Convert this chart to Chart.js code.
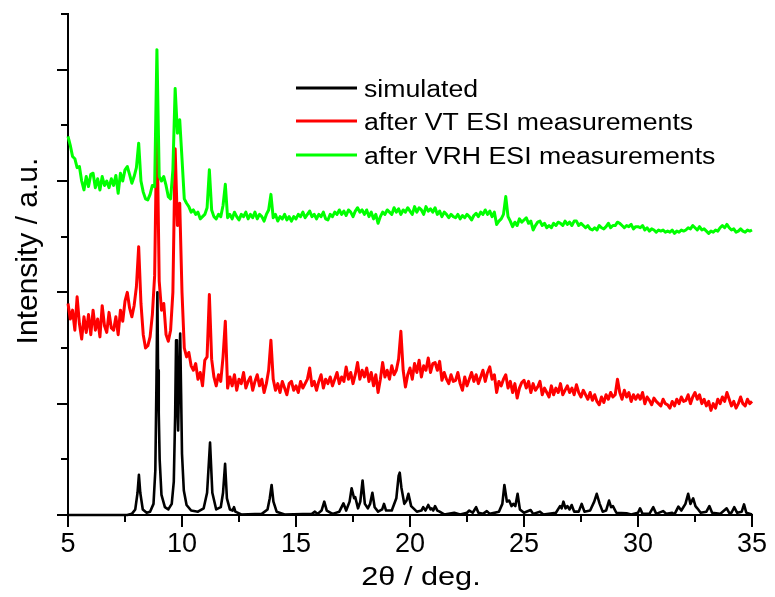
<!DOCTYPE html>
<html>
<head>
<meta charset="utf-8">
<script src="https://cdn.jsdelivr.net/npm/chart.js@4.4.1/dist/chart.umd.min.js"></script>
<style>
html, body { margin: 0; padding: 0; background: #fff; }
</style>
</head>
<body>
<canvas id="chartXrd" width="775" height="597"></canvas>
<script>
// measured patterns sampled every 0.1 deg from 5 to 35
var gridStart = 5, gridStep = 0.1;

var seriesNames = ['simulated', 'after VT ESI measurements', 'after VRH ESI measurements'];
var seriesColors = ['#000000', '#ff0000', '#00ff00'];

var xMajorTicks = [5, 10, 15, 20, 25, 30, 35];
var xMinorTicks = [7.5, 12.5, 17.5, 22.5, 27.5, 32.5];
var yMajorTicks = [0, 1, 2, 3, 4];
var yMinorTicks = [0.5, 1.5, 2.5, 3.5, 4.5];

// simulated pattern [2theta, intensity]
var simulated = [
    [5.0,0],[7.6,0],[7.8,0.01],[7.95,0.05],[8.05,0.2],[8.11,0.36],[8.17,0.2],[8.28,0.05],[8.45,0.02],
    [8.6,0.03],[8.75,0.1],[8.83,0.4],[8.88,1.2],[8.92,2.0],[8.95,1.3],[8.98,0.92],[9.02,0.5],[9.1,0.18],
    [9.25,0.07],[9.4,0.05],[9.55,0.1],[9.64,0.3],[9.7,0.9],[9.74,1.57],[9.78,1.1],[9.83,0.76],[9.88,1.3],
    [9.92,1.63],[9.96,1.1],[10.0,0.55],[10.08,0.22],[10.2,0.09],[10.4,0.04],[10.7,0.03],[10.95,0.06],
    [11.1,0.2],[11.23,0.65],[11.33,0.2],[11.5,0.05],[11.7,0.07],[11.8,0.2],[11.89,0.46],[11.97,0.15],
    [12.1,0.05],[12.22,0.04],[12.28,0.07],[12.34,0.03],[12.6,0.005],[13.5,0.01],[13.75,0.05],[13.85,0.15],
    [13.93,0.27],[14.01,0.12],[14.15,0.03],[14.5,0.005],[15.7,0.01],[15.83,0.03],[15.95,0.01],[16.12,0.04],
    [16.24,0.12],[16.35,0.04],[16.6,0.01],[16.9,0.03],[17.08,0.105],[17.2,0.04],[17.35,0.12],[17.44,0.24],
    [17.55,0.15],[17.6,0.16],[17.72,0.06],[17.82,0.12],[17.92,0.31],[18.02,0.1],[18.15,0.06],[18.25,0.1],
    [18.35,0.2],[18.45,0.07],[18.6,0.03],[18.78,0.05],[18.86,0.1],[18.95,0.04],[19.2,0.04],[19.4,0.15],
    [19.5,0.35],[19.55,0.38],[19.62,0.25],[19.75,0.1],[19.85,0.13],[19.93,0.19],[20.05,0.08],[20.3,0.03],
    [20.5,0.04],[20.58,0.07],[20.68,0.04],[20.8,0.09],[20.9,0.05],[20.95,0.06],[21.02,0.04],[21.1,0.08],
    [21.2,0.04],[21.3,0.03],[21.5,0.005],[21.94,0.02],[22.2,0.005],[22.5,0.02],[22.6,0.04],[22.75,0.02],
    [22.9,0.07],[23.0,0.02],[23.2,0.01],[23.37,0.035],[23.5,0.01],[23.9,0.03],[24.05,0.1],[24.14,0.27],
    [24.25,0.12],[24.35,0.13],[24.45,0.08],[24.53,0.1],[24.62,0.08],[24.72,0.19],[24.82,0.05],[25.0,0.02],
    [25.29,0.045],[25.4,0.01],[25.7,0.03],[25.85,0.005],[26.4,0.02],[26.58,0.08],[26.65,0.06],[26.73,0.12],
    [26.82,0.06],[26.9,0.08],[27.0,0.05],[27.09,0.09],[27.2,0.03],[27.4,0.03],[27.53,0.1],[27.65,0.03],
    [27.9,0.04],[28.08,0.12],[28.19,0.19],[28.32,0.1],[28.45,0.03],[28.6,0.04],[28.73,0.13],[28.82,0.07],
    [28.9,0.08],[29.05,0.02],[29.5,0.015],[29.7,0.005],[30.0,0.02],[30.09,0.06],[30.2,0.01],[30.5,0.01],
    [30.67,0.07],[30.8,0.01],[31.1,0.035],[31.25,0.01],[31.5,0.02],[31.6,0.005],[31.77,0.075],[31.9,0.04],
    [32.08,0.1],[32.2,0.19],[32.3,0.1],[32.42,0.15],[32.52,0.08],[32.6,0.06],[32.75,0.02],[33.0,0.03],
    [33.13,0.08],[33.25,0.02],[33.6,0.01],[33.89,0.06],[34.0,0.02],[34.1,0.02],[34.22,0.07],[34.35,0.02],
    [34.55,0.03],[34.65,0.095],[34.75,0.02],[35.0,0.005]
];

// after VT ESI measurements (one row per degree)
var afterVT = [
    1.90,1.76,1.84,1.66,1.96,1.72,1.58,1.78,1.64,1.80,
    1.62,1.84,1.66,1.76,1.60,1.88,1.70,1.64,1.82,1.68,
    1.66,1.78,1.62,1.84,1.74,1.92,2.00,1.86,1.78,1.88,
    2.05,2.41,1.90,1.62,1.50,1.52,1.60,1.80,2.15,3.57,
    2.10,1.84,1.90,1.62,1.56,1.66,2.00,3.29,2.60,2.80,
    2.00,1.50,1.42,1.46,1.34,1.30,1.36,1.22,1.28,1.16,
    1.39,1.42,1.98,1.40,1.24,1.16,1.26,1.20,1.42,1.74,
    1.14,1.24,1.16,1.26,1.12,1.22,1.18,1.28,1.14,1.20,
    1.24,1.12,1.20,1.26,1.16,1.22,1.10,1.18,1.30,1.57,
    1.22,1.12,1.18,1.10,1.20,1.14,1.08,1.18,1.20,1.12,
    1.16,1.10,1.20,1.14,1.18,1.22,1.32,1.16,1.20,1.12,
    1.20,1.26,1.14,1.22,1.18,1.24,1.16,1.22,1.28,1.18,
    1.24,1.20,1.33,1.22,1.28,1.18,1.26,1.37,1.22,1.30,
    1.24,1.32,1.20,1.28,1.16,1.26,1.10,1.22,1.37,1.24,
    1.30,1.22,1.34,1.26,1.30,1.40,1.65,1.30,1.15,1.26,
    1.32,1.22,1.36,1.28,1.39,1.24,1.34,1.30,1.41,1.28,
    1.36,1.37,1.30,1.38,1.21,1.28,1.22,1.18,1.26,1.20,
    1.21,1.28,1.18,1.12,1.24,1.16,1.22,1.28,1.20,1.26,
    1.18,1.24,1.30,1.20,1.28,1.33,1.22,1.26,1.10,1.20,
    1.16,1.22,1.26,1.14,1.20,1.10,1.18,1.05,1.14,1.19,
    1.21,1.14,1.20,1.10,1.18,1.12,1.15,1.20,1.08,1.14,
    1.10,1.06,1.16,1.08,1.14,1.10,1.18,1.08,1.12,1.16,
    1.10,1.14,1.08,1.17,1.10,1.06,1.12,1.08,1.04,1.10,
    1.03,1.08,1.02,0.99,1.06,1.01,1.08,1.04,1.10,1.06,
    1.08,1.22,1.10,1.04,1.12,1.06,1.10,1.02,1.08,1.04,
    1.08,1.04,1.10,1.00,1.06,1.03,0.99,1.05,1.02,1.00,
    0.98,1.04,1.00,0.99,0.96,1.02,0.98,1.04,1.00,1.06,
    1.02,1.03,1.08,1.00,1.06,1.10,1.04,1.08,1.00,1.04,
    0.98,1.02,0.94,1.00,0.96,1.04,1.00,1.06,1.02,1.10,
    1.04,0.98,1.02,0.96,1.00,1.06,1.00,0.98,1.04,1.00,
    1.02
];

// after VRH ESI measurements (one row per degree)
var afterVRH = [
    3.40,3.32,3.22,3.20,3.12,3.13,3.00,2.92,3.04,2.95,
    3.06,3.07,2.94,3.02,2.92,3.04,2.96,3.00,2.94,3.02,
    2.96,3.05,2.89,3.07,3.00,3.10,3.13,3.06,2.98,3.04,
    3.12,3.34,3.00,2.90,2.84,2.83,2.88,2.96,2.95,4.18,
    3.04,3.00,3.04,2.96,2.86,2.84,3.10,3.83,3.43,3.55,
    3.20,2.84,2.80,2.77,2.72,2.74,2.70,2.72,2.66,2.68,
    2.70,2.76,3.10,2.74,2.68,2.66,2.70,2.68,2.78,2.97,
    2.67,2.70,2.66,2.72,2.68,2.65,2.70,2.68,2.72,2.66,
    2.70,2.67,2.72,2.66,2.70,2.68,2.64,2.70,2.74,2.88,
    2.67,2.70,2.64,2.68,2.66,2.70,2.65,2.68,2.64,2.68,
    2.66,2.70,2.68,2.72,2.67,2.70,2.73,2.68,2.70,2.66,
    2.70,2.68,2.72,2.66,2.65,2.70,2.68,2.72,2.70,2.74,
    2.70,2.73,2.69,2.74,2.72,2.68,2.73,2.76,2.72,2.74,
    2.70,2.74,2.68,2.72,2.66,2.70,2.62,2.68,2.72,2.70,
    2.74,2.72,2.70,2.76,2.72,2.75,2.70,2.74,2.72,2.76,
    2.73,2.70,2.77,2.72,2.76,2.74,2.70,2.77,2.73,2.75,
    2.72,2.76,2.70,2.73,2.68,2.72,2.70,2.67,2.70,2.68,
    2.67,2.70,2.66,2.69,2.67,2.70,2.68,2.65,2.69,2.71,
    2.68,2.72,2.70,2.74,2.70,2.73,2.68,2.72,2.61,2.64,
    2.66,2.70,2.86,2.68,2.64,2.59,2.63,2.60,2.66,2.63,
    2.65,2.67,2.62,2.64,2.56,2.60,2.63,2.64,2.60,2.62,
    2.58,2.60,2.58,2.62,2.60,2.63,2.62,2.60,2.64,2.61,
    2.63,2.60,2.64,2.64,2.60,2.62,2.60,2.58,2.60,2.57,
    2.56,2.58,2.56,2.60,2.58,2.57,2.59,2.62,2.58,2.60,
    2.60,2.63,2.62,2.60,2.58,2.60,2.59,2.61,2.57,2.59,
    2.59,2.58,2.60,2.56,2.58,2.55,2.57,2.56,2.54,2.56,
    2.55,2.56,2.54,2.55,2.54,2.56,2.53,2.55,2.54,2.56,
    2.55,2.56,2.58,2.57,2.60,2.58,2.56,2.59,2.56,2.57,
    2.55,2.53,2.55,2.54,2.56,2.55,2.58,2.60,2.58,2.61,
    2.58,2.56,2.57,2.54,2.55,2.57,2.55,2.54,2.56,2.55,
    2.56
];

function onGrid(values) {
    return values.map(function (v, i) {
        return { x: +(gridStart + i * gridStep).toFixed(2), y: v };
    });
}
function fromPairs(pairs) {
    return pairs.map(function (p) { return { x: p[0], y: p[1] }; });
}

var fontName = '"Liberation Sans", Arial, sans-serif';

// ticks, axis titles and the legend
var decorPlugin = {
    id: 'decor',
    afterDraw: function (chart) {
        var ctx = chart.ctx, xs = chart.scales.x, ys = chart.scales.y;
        var bottom = ys.bottom, left = xs.left;
        ctx.save();
        ctx.strokeStyle = '#000';
        ctx.lineWidth = 2;
        ctx.lineCap = 'butt';
        function tick(x1, y1, x2, y2) {
            ctx.beginPath(); ctx.moveTo(x1, y1); ctx.lineTo(x2, y2); ctx.stroke();
        }
        xMajorTicks.forEach(function (v) { var p = Math.round(xs.getPixelForValue(v)); tick(p, bottom, p, bottom + 12); });
        xMinorTicks.forEach(function (v) { var p = Math.round(xs.getPixelForValue(v)); tick(p, bottom, p, bottom + 7); });
        yMajorTicks.forEach(function (v) { var p = Math.round(ys.getPixelForValue(v)); tick(left, p, left - 11, p); });
        yMinorTicks.forEach(function (v) { var p = Math.round(ys.getPixelForValue(v)); tick(left, p, left - 7, p); });

        ctx.fillStyle = '#000';
        // y title
        ctx.save();
        ctx.translate(37, 251);
        ctx.rotate(-Math.PI / 2);
        ctx.font = '30px ' + fontName;
        ctx.textAlign = 'center';
        ctx.textBaseline = 'alphabetic';
        ctx.fillText('Intensity / a.u.', 0, 0);
        ctx.restore();
        // x title
        ctx.save();
        ctx.translate(421, 585);
        ctx.scale(1.18, 1);
        ctx.font = '26px ' + fontName;
        ctx.textAlign = 'center';
        ctx.textBaseline = 'alphabetic';
        ctx.fillText('2θ / deg.', 0, 0);
        ctx.restore();
        // legend
        var rows = [88, 121, 155];
        seriesNames.forEach(function (name, i) {
            ctx.strokeStyle = seriesColors[i];
            ctx.lineWidth = 3;
            tick(296, rows[i], 357, rows[i]);
            ctx.save();
            ctx.translate(364, rows[i] + 8.5);
            ctx.scale(1.16, 1);
            ctx.font = '23px ' + fontName;
            ctx.fillStyle = '#000';
            ctx.textBaseline = 'alphabetic';
            ctx.fillText(name, 0, 0);
            ctx.restore();
        });
        ctx.restore();
    }
};

var ctxXrd = document.getElementById('chartXrd');
var chartXrd = new Chart(ctxXrd, {
    type: 'line',
    data: {
        datasets: [
            { label: seriesNames[0], data: fromPairs(simulated), borderColor: seriesColors[0], borderWidth: 2.6, order: 0 },
            { label: seriesNames[1], data: onGrid(afterVT), borderColor: seriesColors[1], borderWidth: 3, order: 2 },
            { label: seriesNames[2], data: onGrid(afterVRH), borderColor: seriesColors[2], borderWidth: 3, order: 1 }
        ]
    },
    options: {
        responsive: false,
        animation: false,
        events: [],
        layout: { padding: { top: 14, right: 23, left: 0, bottom: 0 } },
        elements: {
            point: { radius: 0 },
            line: { tension: 0, fill: false, borderJoinStyle: 'round' }
        },
        datasets: { line: { clip: 4 } },
        plugins: {
            legend: { display: false },
            tooltip: { enabled: false }
        },
        scales: {
            x: {
                type: 'linear',
                min: 5,
                max: 35,
                afterFit: function (scale) {
                    scale.height = 82;
                    scale.paddingLeft = 0;
                    scale.paddingRight = 0;
                },
                grid: { display: false, drawTicks: false },
                border: { display: true, color: '#000', width: 2 },
                ticks: {
                    stepSize: 5,
                    color: '#000',
                    padding: 13,
                    maxRotation: 0,
                    font: { family: fontName, size: 27 }
                }
            },
            y: {
                type: 'linear',
                min: 0,
                max: 4.5,
                afterFit: function (scale) { scale.width = 68; },
                grid: { display: false, drawTicks: false },
                border: { display: true, color: '#000', width: 2 },
                ticks: { display: false }
            }
        }
    },
    plugins: [decorPlugin]
});
</script>
</body>
</html>
